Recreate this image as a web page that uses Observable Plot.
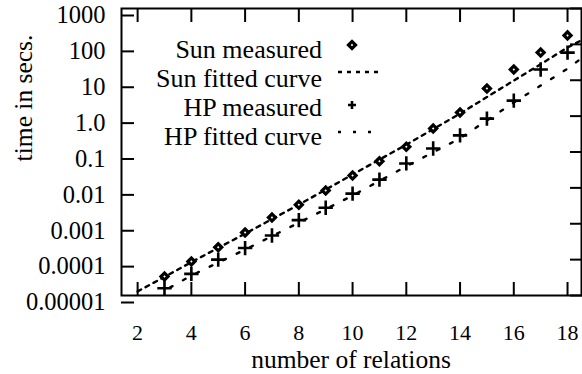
<!DOCTYPE html>
<html>
<head>
<meta charset="utf-8">
<script src="https://cdn.jsdelivr.net/npm/d3@7"></script>
<script src="https://cdn.jsdelivr.net/npm/@observablehq/plot@0.6"></script>
<style>
  html, body { margin: 0; padding: 0; background: #fff; }
  #chart { position: relative; width: 582px; height: 374px; }
</style>
</head>
<body>
<div id="chart"></div>
<script>
// ---- data ----
const relations = [3, 4, 5, 6, 7, 8, 9, 10, 11, 12, 13, 14, 15, 16, 17, 18];
const sunMeasured = [3.4e-5, 8.9e-5, 2.2e-4, 5.7e-4, 1.5e-3, 3.4e-3, 8.5e-3, 0.022, 0.055, 0.14, 0.45, 1.26, 5.9, 20, 59, 178];
const hpMeasured  = [1.6e-5, 4.0e-5, 1.0e-4, 2.1e-4, 4.7e-4, 1.26e-3, 2.8e-3, 6.9e-3, 0.017, 0.048, 0.125, 0.29, 0.85, 2.7, 20, 59];

const sunFitX = [2, 3, 4, 6, 8, 10, 12, 14, 15, 16, 17, 18, 18.5];
const sunFitY = [1.3e-5, 3.3e-5, 8.5e-5, 5.3e-4, 3.4e-3, 0.0236, 0.16, 1.18, 3.4, 9.8, 28, 82, 128];
const hpFitX  = [3.2, 4, 6, 8, 10, 12, 14, 16, 17, 18, 18.5];
const hpFitY  = [1.66e-5, 3.6e-5, 1.9e-4, 1.07e-3, 6.1e-3, 0.04, 0.24, 2.4, 7.1, 21, 40];

const xTicks = [2, 4, 6, 8, 10, 12, 14, 16, 18];
const yTicks = [1e-5, 1e-4, 1e-3, 1e-2, 1e-1, 1, 10, 100, 1000];
const yTickLabels = ["0.00001", "0.0001", "0.001", "0.01", "0.1", "1.0", "10", "100", "1000"];

const seriesNames = ["Sun measured", "Sun fitted curve", "HP measured", "HP fitted curve"];
const xTitle = "number of relations";
const yTitle = "time in secs.";

// ---- tables ----
const sunPts = relations.map((r, i) => ({x: r, y: sunMeasured[i]}));
const hpPts = relations.map((r, i) => ({x: r, y: hpMeasured[i]}));
const sunFit = sunFitX.map((x, i) => ({x, y: sunFitY[i]}));
const hpFit = hpFitX.map((x, i) => ({x, y: hpFitY[i]}));

const FONT = "'Liberation Serif', 'Times New Roman', serif";
const SUN_DASH = "4,5";
const HP_DASH = "3,12";
const yLabelOf = d => yTickLabels[yTicks.findIndex(t => Math.abs(Math.log10(t) - Math.log10(d)) < 1e-6)];

const chart = Plot.plot({
  width: 582,
  height: 374,
  marginLeft: 121,
  marginRight: 1,
  marginTop: 8,
  marginBottom: 79,
  style: {fontFamily: FONT, color: "#000", background: "#fff", overflow: "visible"},
  x: {domain: [1.4, 18.52]},
  y: {type: "log", domain: [1e-5, 1000]},
  marks: [
    Plot.frame({stroke: "#000", strokeWidth: 2}),
    Plot.axisX({anchor: "bottom", ticks: xTicks, tickSize: -13, tickPadding: 41.5, strokeWidth: 2,
      fontSize: 22, tickFormat: d => String(d), label: null}),
    Plot.axisX({anchor: "top", ticks: xTicks, tickSize: -13, strokeWidth: 2, text: null, label: null}),
    Plot.axisY({anchor: "left", ticks: yTicks, tickSize: -13, tickPadding: 29, strokeWidth: 2,
      fontSize: 24.5, dy: 7, tickFormat: yLabelOf, label: null}),
    Plot.axisY({anchor: "right", ticks: yTicks, tickSize: -12, strokeWidth: 2, text: null, label: null}),
    Plot.line(sunFit, {x: "x", y: "y", stroke: "#000", strokeWidth: 2.4, strokeDasharray: SUN_DASH, clip: true}),
    Plot.line(hpFit, {x: "x", y: "y", stroke: "#000", strokeWidth: 2.4, strokeDasharray: HP_DASH, clip: true}),
    Plot.dot(sunPts, {x: "x", y: "y", symbol: "square", rotate: 45, r: 2.8, fill: "#fff", stroke: "#000", strokeWidth: 3.2}),
    Plot.dot(hpPts, {x: "x", y: "y", symbol: "plus", r: 4.7, stroke: "#000", strokeWidth: 2.6})
  ]
});
document.getElementById("chart").appendChild(chart);

const svg = d3.select(chart);
// ---- axis titles ----
svg.append("text").attr("x", 351).attr("y", 368).attr("text-anchor", "middle")
  .attr("font-family", FONT).attr("font-size", 25.5).attr("fill", "#000").text(xTitle);
svg.append("text").attr("transform", "translate(24,98) rotate(-90)").attr("dy", "0.32em")
  .attr("text-anchor", "middle").attr("font-family", FONT).attr("font-size", 25.5)
  .attr("fill", "#000").text(yTitle);

// ---- legend (inside the plot area) ----
const lg = svg.append("g").attr("font-family", FONT).attr("font-size", 26).attr("fill", "#000");
const rowY = [50, 79, 108, 137];
const sampleY = [45, 72, 105, 132];
seriesNames.forEach((name, i) => {
  lg.append("text").attr("x", 322).attr("y", rowY[i]).attr("dy", "0.32em")
    .attr("text-anchor", "end").text(name);
});
const sq = 5;
lg.append("rect").attr("x", -sq / 2).attr("y", -sq / 2).attr("width", sq).attr("height", sq)
  .attr("transform", `translate(352,${sampleY[0]}) rotate(45)`)
  .attr("fill", "#fff").attr("stroke", "#000").attr("stroke-width", 3.2);
lg.append("line").attr("x1", 338).attr("x2", 383).attr("y1", sampleY[1]).attr("y2", sampleY[1])
  .attr("stroke", "#000").attr("stroke-width", 2.4).attr("stroke-dasharray", SUN_DASH);
lg.append("path").attr("d", `M348,${sampleY[2]}h8M352,${sampleY[2] - 4}v8`)
  .attr("stroke", "#000").attr("stroke-width", 2.6).attr("fill", "none");
lg.append("line").attr("x1", 338).attr("x2", 383).attr("y1", sampleY[3]).attr("y2", sampleY[3])
  .attr("stroke", "#000").attr("stroke-width", 2.4).attr("stroke-dasharray", HP_DASH);
</script>
</body>
</html>
